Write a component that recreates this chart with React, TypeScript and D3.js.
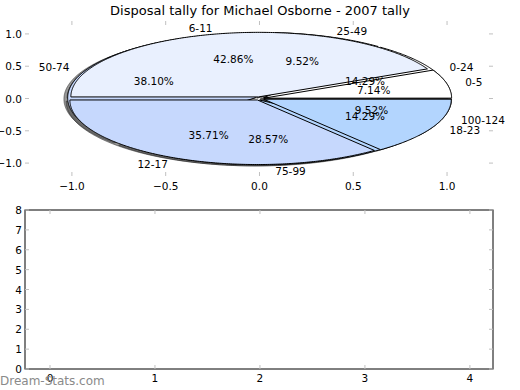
import * as d3 from "d3";

// pie data (two pies drawn over each other)
const labelsA = ["0-5", "6-11", "12-17", "18-23"];
const valuesA = [1, 6, 5, 2];
const labelsB = ["0-24", "25-49", "50-74", "75-99", "100-124"];
const valuesB = [3, 2, 8, 6, 2];
const sliceColors = ["#ffffff", "#e9f0fe", "#c6d8fd", "#b3d5fe"];

const pieXTicks = [-1, -0.5, 0, 0.5, 1];
const pieYTicks = [-1, -0.5, 0, 0.5, 1];
const barXTicks = [0, 1, 2, 3, 4];
const barYTicks = [0, 1, 2, 3, 4, 5, 6, 7, 8];

const title = "Disposal tally for Michael Osborne - 2007 tally";

const W = 520;
const H = 390;
const font = "DejaVu Sans, sans-serif";
const explode = 0.025;

const fmtTick = (v: number) => (v < 0 ? "\u2212" : "") + Math.abs(v).toFixed(1);

const App = () => {
  // top axes (pie)
  const px = d3.scaleLinear().domain([-1.25, 1.245]).range([25, 493]);
  const py = d3.scaleLinear().domain([-1.2, 1.2]).range([176, 21]);
  // bottom axes (empty)
  const bx = d3.scaleLinear().domain([-0.238, 4.22]).range([25, 493]);
  const by = d3.scaleLinear().domain([0, 8]).range([369, 210]);

  const line = d3
    .line<[number, number]>()
    .x((d) => px(d[0]))
    .y((d) => py(d[1]));

  const makeWedges = (labels: string[], values: number[]) => {
    const total = d3.sum(values);
    const arcs = d3.pie<number>().sort(null)(values);
    return arcs.map((a, i) => {
      const t1 = a.startAngle;
      const t2 = a.endAngle;
      const mid = (t1 + t2) / 2;
      const cx = explode * Math.cos(mid);
      const cy = explode * Math.sin(mid);
      const n = Math.max(2, Math.ceil((t2 - t1) / 0.01));
      const pts: [number, number][] = [[cx, cy]];
      for (let k = 0; k <= n; k++) {
        const t = t1 + ((t2 - t1) * k) / n;
        pts.push([cx + Math.cos(t), cy + Math.sin(t)]);
      }
      const shadowPts = pts.map((p) => [p[0] - 0.02, p[1] - 0.02] as [number, number]);
      const lx = cx + 1.1 * Math.cos(mid);
      const ly = cy + 1.1 * Math.sin(mid);
      return {
        label: labels[i],
        pct: ((values[i] * 100) / total).toFixed(2) + "%",
        path: line(pts) + "Z",
        shadow: line(shadowPts) + "Z",
        color: sliceColors[i % sliceColors.length],
        lx,
        ly,
        anchor: lx > 0 ? "start" : "end",
        tx: cx + 0.6 * Math.cos(mid),
        ty: cy + 0.6 * Math.sin(mid),
      };
    });
  };

  const wedgesB = makeWedges(labelsB, valuesB);
  const wedgesA = makeWedges(labelsA, valuesA);
  const all = [...wedgesB, ...wedgesA];

  const tickColor = "#c0c0c0";

  return (
    <svg
      width={W}
      height={H}
      style={{ position: "absolute", left: 0, top: 0, background: "#fff" }}
      fontFamily={font}
    >
      <rect width={W} height={H} fill="#fff" />
      <text x={260} y={15} fontSize={13} textAnchor="middle" fill="#000">
        {title}
      </text>

      {/* pie axes ticks (no frame) */}
      {pieXTicks.map((t) => (
        <g key={"px" + t}>
          <line x1={px(t)} x2={px(t)} y1={21} y2={25} stroke={tickColor} />
          <line x1={px(t)} x2={px(t)} y1={176} y2={172} stroke={tickColor} />
          <text x={px(t)} y={186} fontSize={10.5} textAnchor="middle" dominantBaseline="central">
            {fmtTick(t)}
          </text>
        </g>
      ))}
      {pieYTicks.map((t) => (
        <g key={"py" + t}>
          <line x1={25} x2={29} y1={py(t)} y2={py(t)} stroke={tickColor} />
          <line x1={493} x2={489} y1={py(t)} y2={py(t)} stroke={tickColor} />
          <text x={22} y={py(t)} fontSize={10.5} textAnchor="end" dominantBaseline="central">
            {fmtTick(t)}
          </text>
        </g>
      ))}

      {/* shadows first, then wedges */}
      {all.map((w, i) => (
        <path key={"s" + i} d={w.shadow} fill="#444" fillOpacity={0.55} stroke="#222" strokeOpacity={0.5} />
      ))}
      {all.map((w, i) => (
        <path key={"w" + i} d={w.path} fill={w.color} stroke="#000" strokeWidth={1} strokeLinejoin="round" />
      ))}
      {all.map((w, i) => (
        <g key={"t" + i} fontSize={10.5} fill="#000">
          <text x={px(w.lx)} y={py(w.ly)} textAnchor={w.anchor} dominantBaseline="central">
            {w.label}
          </text>
          <text x={px(w.tx)} y={py(w.ty)} textAnchor="middle" dominantBaseline="central">
            {w.pct}
          </text>
        </g>
      ))}

      {/* bottom empty axes */}
      <rect x={25} y={210} width={468} height={159} fill="none" stroke="#000" />
      {barXTicks.map((t) => (
        <g key={"bx" + t}>
          <line x1={bx(t)} x2={bx(t)} y1={210} y2={214} stroke={tickColor} />
          <line x1={bx(t)} x2={bx(t)} y1={369} y2={365} stroke={tickColor} />
          <text x={bx(t)} y={378} fontSize={10.5} textAnchor="middle" dominantBaseline="central">
            {t}
          </text>
        </g>
      ))}
      {barYTicks.map((t) => (
        <g key={"by" + t}>
          <line x1={25} x2={29} y1={by(t)} y2={by(t)} stroke={tickColor} />
          <line x1={493} x2={489} y1={by(t)} y2={by(t)} stroke={tickColor} />
          <text x={22} y={by(t)} fontSize={10.5} textAnchor="end" dominantBaseline="central">
            {t}
          </text>
        </g>
      ))}

      <text x={0} y={385} fontSize={12} fill="#8a8a8a">
        Dream-Stats.com
      </text>
    </svg>
  );
};

export default App;
